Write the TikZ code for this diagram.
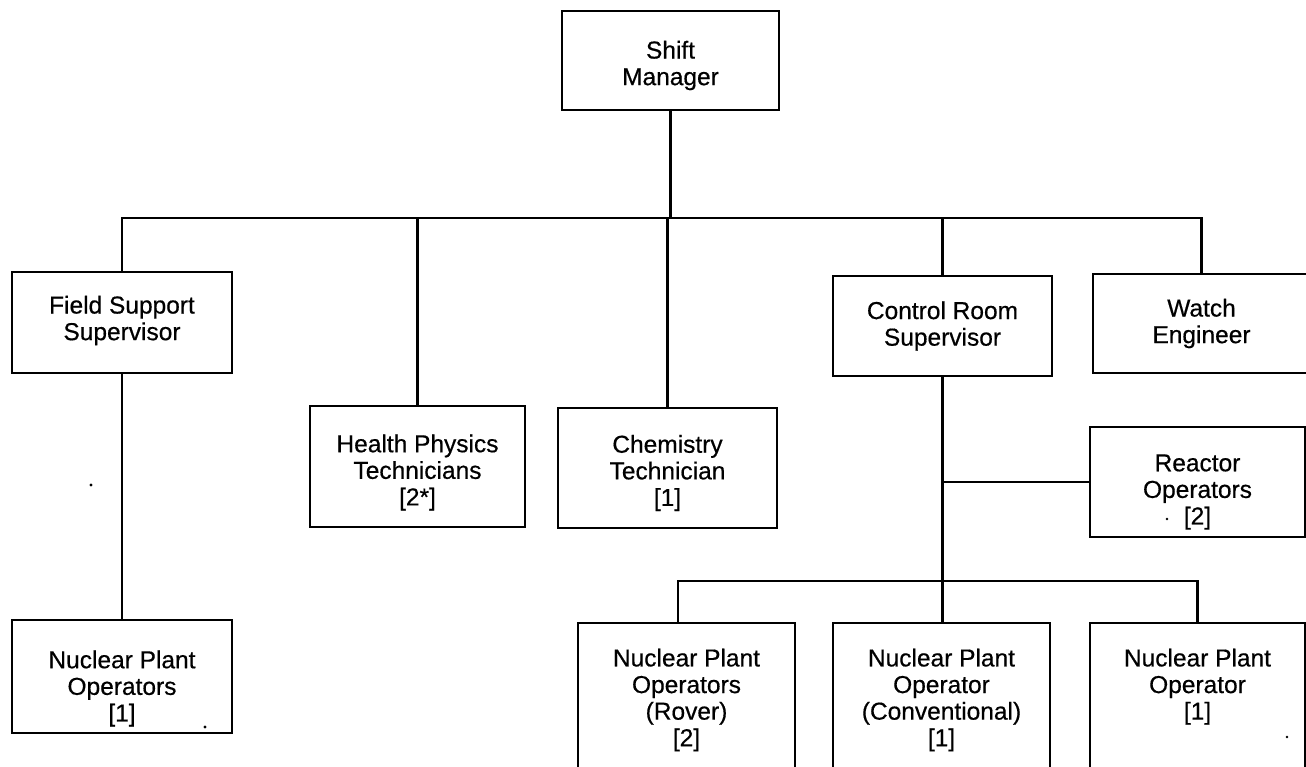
\documentclass[tikz,border=0pt]{standalone}
\usepackage{fontspec}
\setmainfont{Liberation Sans}[FakeBold=0.5]
\begin{document}
\begin{tikzpicture}[x=1pt,y=-1pt,
  orgbox/.style={draw, line width=2.8pt, rectangle, inner sep=0pt},
  orgtext/.style={align=center, inner sep=0pt, font=\fontsize{24.5}{26.6}\selectfont},
  link/.style={line width=2.2pt},
  speck/.style={fill=black}]
\useasboundingbox (0,0) rectangle (1306,767);

% boxes
\node[orgbox, minimum width=217pt, minimum height=99pt]  (sm)    at (670.5,60.5) {};
\node[orgbox, minimum width=220pt, minimum height=101pt] (fss)   at (122,322.5) {};
\node[orgbox, minimum width=219pt, minimum height=100pt] (crs)   at (942.5,326) {};
\node[orgbox, minimum width=217pt, minimum height=99pt]  (we)    at (1201.5,323.5) {};
\node[orgbox, minimum width=215pt, minimum height=121pt] (hp)    at (417.5,466.5) {};
\node[orgbox, minimum width=219pt, minimum height=120pt] (chem)  at (667.5,468) {};
\node[orgbox, minimum width=215pt, minimum height=110pt] (ro)    at (1197.5,482) {};
\node[orgbox, minimum width=220pt, minimum height=113pt] (npoA)  at (122,676.5) {};
\node[orgbox, minimum width=217pt, minimum height=154pt] (rover) at (686.5,700) {};
\node[orgbox, minimum width=217pt, minimum height=154pt] (conv)  at (941.5,700) {};
\node[orgbox, minimum width=215pt, minimum height=154pt] (npoB)  at (1197.5,700) {};

% labels inside the boxes
\node[orgtext] (sm-t)    at ([yshift=-5pt]sm.center)    {Shift\\Manager};
\node[orgtext] (fss-t)   at ([yshift=2pt]fss.center)    {Field Support\\Supervisor};
\node[orgtext] (crs-t)   at (crs.center)                {Control Room\\Supervisor};
\node[orgtext] (we-t)    at (we.center)                 {Watch\\Engineer};
\node[orgtext] (hp-t)    at ([yshift=-6pt]hp.center)    {Health Physics\\Technicians\\{[2*]}};
\node[orgtext] (chem-t)  at ([yshift=-5pt]chem.center)  {Chemistry\\Technician\\{[1]}};
\node[orgtext] (ro-t)    at ([yshift=-10pt]ro.center)   {Reactor\\Operators\\{[2]}};
\node[orgtext] (npoA-t)  at ([yshift=-12pt]npoA.center) {Nuclear Plant\\Operators\\{[1]}};
\node[orgtext] (rover-t) at (rover.center)              {Nuclear Plant\\Operators\\(Rover)\\{[2]}};
\node[orgtext] (conv-t)  at (conv.center)               {Nuclear Plant\\Operator\\(Conventional)\\{[1]}};
\node[orgtext, anchor=north] (npoB-t) at (rover-t.north -| npoB.center) {Nuclear Plant\\Operator\\{[1]}};

% bus lines
\coordinate (bus) at (670,218);
\coordinate (lowbus) at (678,581);

\draw[link] (sm.south) -- (sm.south |- bus);
\draw[link] (fss.north) -- (fss.north |- bus) -- (we.north |- bus) -- (we.north);
\draw[link] (hp.north |- bus) -- (hp.north);
\draw[link] (chem.north |- bus) -- (chem.north);
\draw[link] (crs.north |- bus) -- (crs.north);

\draw[link] (fss.south) -- (npoA.north);
\draw[link] (crs.south) -- (crs.south |- conv.north);
\draw[link] (crs.south |- ro.west) -- (ro.west);
\draw[link] (lowbus |- rover.north) -- (lowbus) -- (npoB.north |- lowbus) -- (npoB.north);

% small specks
\fill[speck] (91,485) circle (1.6);
\fill[speck] (1167,519) circle (1.4);
\fill[speck] (205,727) circle (1.6);
\fill[speck] (1287,737) circle (1.4);
\end{tikzpicture}
\end{document}
